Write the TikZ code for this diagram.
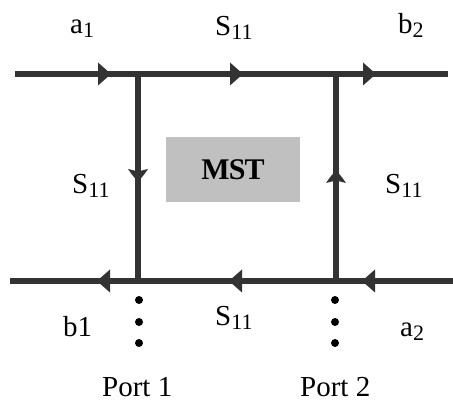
\documentclass[tikz,border=0pt]{standalone}
\usepackage{fontspec}
\setmainfont{Liberation Serif}
\usetikzlibrary{decorations.markings}
\definecolor{ln}{HTML}{333333}
\definecolor{boxgray}{HTML}{C0C0C0}
\newcommand{\sub}[1]{\raisebox{-3.5pt}{\fontsize{22}{22}\selectfont #1}}
\newcommand{\htri}{\fill[ln] (0pt,0pt) -- (-13pt,11.5pt) -- (-13pt,-11.5pt) -- cycle;}
\newcommand{\vbarb}{\fill[ln] (0pt,0pt) -- (-8pt,6.5pt) -- (-13pt,10pt) -- (-10.5pt,0pt) -- (-13pt,-10pt) -- (-8pt,-6.5pt) -- cycle;}
\begin{document}
\begin{tikzpicture}[x=1pt,y=-1pt,
  wire/.style={draw=ln,line width=6pt},
  lbl/.style={anchor=base west,inner sep=0pt,font=\fontsize{29}{29}\selectfont},
  dotp/.style={circle,fill=black,inner sep=0pt,minimum size=8pt}]
\useasboundingbox (0,0) rectangle (453,403);
% junctions and ends
\coordinate (TLend) at (15,74);
\coordinate (TRend) at (448,74);
\coordinate (BLend) at (10,281);
\coordinate (BRend) at (453,281);
\coordinate (TL) at (138,74);
\coordinate (TR) at (336,74);
\coordinate (BL) at (138,281);
\coordinate (BR) at (336,281);
% wires
\draw[wire,postaction={decorate,decoration={markings,
  mark=at position 96pt with {\htri},
  mark=at position 228pt with {\htri},
  mark=at position 361pt with {\htri}}}]
  (TLend) -- (TRend);
\draw[wire,postaction={decorate,decoration={markings,
  mark=at position 91pt with {\htri},
  mark=at position 224pt with {\htri},
  mark=at position 356pt with {\htri}}}]
  (BRend) -- (BLend);
\draw[wire,postaction={decorate,decoration={markings,
  mark=at position 108pt with {\vbarb}}}]
  (TL) -- (BL);
\draw[wire,postaction={decorate,decoration={markings,
  mark=at position 111pt with {\vbarb}}}]
  (BR) -- (TR);
% MST box
\node[fill=boxgray,minimum width=134pt,minimum height=65pt,inner sep=0pt,
  font=\fontsize{30}{30}\selectfont\bfseries] (mst) at (233,169.5) {\addfontfeatures{LetterSpace=-3}MST};
% port dots
\node[dotp] (d1a) at (139,300) {};
\node[dotp] (d1b) at (139,322) {};
\node[dotp] (d1c) at (139,343) {};
\node[dotp] (d2a) at (335,300) {};
\node[dotp] (d2b) at (335,322) {};
\node[dotp] (d2c) at (335,343) {};
% labels
\node[lbl] (la1) at (70,34) {a\sub{1}};
\node[lbl] (ls1) at (215,36) {S\sub{11}};
\node[lbl] (lb2) at (398,34) {b\sub{2}};
\node[lbl] (ls2) at (72,194) {S\sub{11}};
\node[lbl] (ls3) at (385,194) {S\sub{11}};
\node[lbl] (lb1) at (63,337) {b1};
\node[lbl] (ls4) at (215,326) {S\sub{11}};
\node[lbl] (la2) at (400,337) {a\sub{2}};
\node[lbl] (p1) at (102,397) {Port 1};
\node[lbl] (p2) at (300,397) {Port 2};
\end{tikzpicture}
\end{document}
